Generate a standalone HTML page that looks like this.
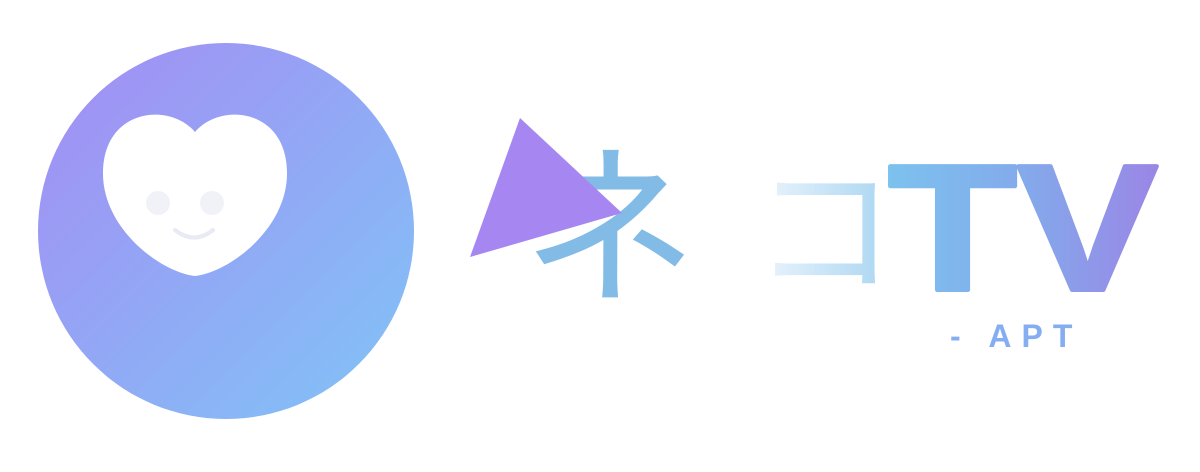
<!DOCTYPE html>
<html><head><meta charset="utf-8"><style>html,body{margin:0;padding:0;background:#fff;width:1200px;height:472px;overflow:hidden}</style></head>
<body>
<svg width="1200" height="472" viewBox="0 0 1200 472">
<defs>
<linearGradient id="cg" x1="0" y1="0" x2="1" y2="1"><stop offset="0" stop-color="#a48cf4"/><stop offset="1" stop-color="#80c4f6"/></linearGradient>
<linearGradient id="tg" x1="0" y1="0" x2="1" y2="0"><stop offset="0" stop-color="#7cc2ee"/><stop offset="0.5" stop-color="#83aaeb"/><stop offset="1" stop-color="#9a86e6"/></linearGradient>
<linearGradient id="kg" x1="0" y1="0" x2="1" y2="0"><stop offset="0" stop-color="#eef6fc"/><stop offset="1" stop-color="#a6d4f2"/></linearGradient>
</defs>
<circle cx="226" cy="231" r="188" fill="url(#cg)"/>
<path d="M195,132 C170,102 104,108 103,172 C102,228 160,272 195,276 C230,272 288,228 287,172 C286,108 220,102 195,132 Z" fill="#fff"/>
<circle cx="158" cy="203" r="12" fill="#f1f2f8"/>
<circle cx="212" cy="203" r="12" fill="#f1f2f8"/>
<path d="M175,230 Q194,245 213,230" stroke="#e8eaf4" stroke-width="4" fill="none" stroke-linecap="round"/>
<text x="522" y="290" font-family="Liberation Sans, Noto Sans CJK JP, sans-serif" font-size="175" fill="#82bbe6">ネ</text>
<polygon points="520,118 470,257 622,213" fill="#a687f2"/>
<text x="752" y="282" font-family="Liberation Sans, Noto Sans CJK JP, sans-serif" font-size="145" fill="url(#kg)">コ</text>
<text x="888" y="290" font-family="Liberation Sans, sans-serif" font-weight="bold" font-size="180" fill="url(#tg)" stroke="url(#tg)" stroke-width="4" stroke-linejoin="round" textLength="270" lengthAdjust="spacingAndGlyphs">TV</text>
<text x="950" y="347" font-family="Liberation Sans, sans-serif" font-weight="bold" font-size="32" fill="#85aef2" letter-spacing="10">- APT</text>
</svg>
</body></html>
